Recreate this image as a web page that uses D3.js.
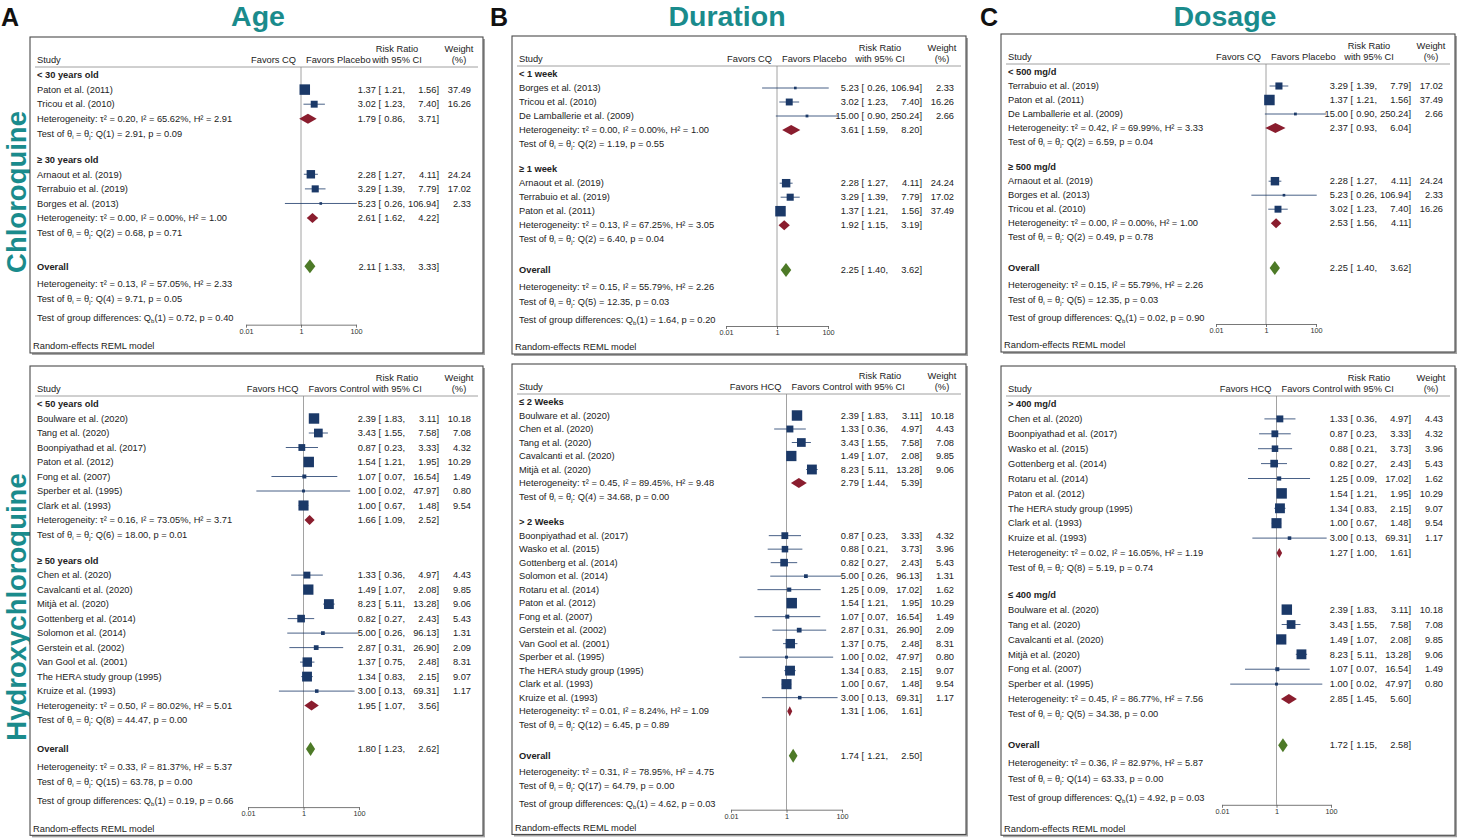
<!DOCTYPE html>
<html>
<head>
<meta charset="utf-8">
<script src="https://cdn.jsdelivr.net/npm/d3@7"></script>
<style>
  body { margin: 0; background: #fff; }
  text { font-family: "Liberation Sans", Arial, Helvetica, sans-serif; }
</style>
</head>
<body>
<div id="wrapper"></div>
<script>
// STEP 1: DATA

// chloroquine studies (risk ratio, 95% CI, weight %)
const cqStudy = ["Paton et al. (2011)", "Tricou et al. (2010)", "Arnaout et al. (2019)", "Terrabuio et al. (2019)", "Borges et al. (2013)", "De Lamballerie et al. (2009)"];
const cqRR = [1.37, 3.02, 2.28, 3.29, 5.23, 15.00];
const cqLow = [1.21, 1.23, 1.27, 1.39, 0.26, 0.90];
const cqHigh = [1.56, 7.40, 4.11, 7.79, 106.94, 250.24];
const cqWeight = [37.49, 16.26, 24.24, 17.02, 2.33, 2.66];

// hydroxychloroquine studies
const hcqStudy = ["Boulware et al. (2020)", "Tang et al. (2020)", "Boonpiyathad et al. (2017)", "Paton et al. (2012)", "Fong et al. (2007)", "Sperber et al. (1995)", "Clark et al. (1993)", "Chen et al. (2020)", "Cavalcanti et al. (2020)", "Mitjà et al. (2020)", "Gottenberg et al. (2014)", "Solomon et al. (2014)", "Gerstein et al. (2002)", "Van Gool et al. (2001)", "The HERA study group (1995)", "Kruize et al. (1993)", "Wasko et al. (2015)", "Rotaru et al. (2014)"];
const hcqRR = [2.39, 3.43, 0.87, 1.54, 1.07, 1.00, 1.00, 1.33, 1.49, 8.23, 0.82, 5.00, 2.87, 1.37, 1.34, 3.00, 0.88, 1.25];
const hcqLow = [1.83, 1.55, 0.23, 1.21, 0.07, 0.02, 0.67, 0.36, 1.07, 5.11, 0.27, 0.26, 0.31, 0.75, 0.83, 0.13, 0.21, 0.09];
const hcqHigh = [3.11, 7.58, 3.33, 1.95, 16.54, 47.97, 1.48, 4.97, 2.08, 13.28, 2.43, 96.13, 26.90, 2.48, 2.15, 69.31, 3.73, 17.02];
const hcqWeight = [10.18, 7.08, 4.32, 10.29, 1.49, 0.80, 9.54, 4.43, 9.85, 9.06, 5.43, 1.31, 2.09, 8.31, 9.07, 1.17, 3.96, 1.62];

const columnTitles = ["Age", "Duration", "Dosage"];
const panelLetters = ["A", "B", "C"];
const rowTitles = ["Chloroquine", "Hydroxychloroquine"];
const cqFavors = ["Favors CQ", "Favors Placebo"];
const hcqFavors = ["Favors HCQ", "Favors Control"];
const axisTicks = [0.01, 1, 100];

// subgroups: label, member studies
// summary rows: [RR, low, high, tau2, I2, H2, df, Q, p] for group 1, group 2, overall
const ageCQGroups = ["< 30 years old", "≥ 30 years old"];
const ageCQMembers = [["Paton et al. (2011)", "Tricou et al. (2010)"], ["Arnaout et al. (2019)", "Terrabuio et al. (2019)", "Borges et al. (2013)"]];
const ageCQSummary = [[1.79, 0.86, 3.71, 0.20, 65.62, 2.91, 1, 2.91, 0.09], [2.61, 1.62, 4.22, 0.00, 0.00, 1.00, 2, 0.68, 0.71], [2.11, 1.33, 3.33, 0.13, 57.05, 2.33, 4, 9.71, 0.05]];
const ageCQDiff = [0.72, 0.40];

const ageHCQGroups = ["< 50 years old", "≥ 50 years old"];
const ageHCQMembers = [["Boulware et al. (2020)", "Tang et al. (2020)", "Boonpiyathad et al. (2017)", "Paton et al. (2012)", "Fong et al. (2007)", "Sperber et al. (1995)", "Clark et al. (1993)"],
  ["Chen et al. (2020)", "Cavalcanti et al. (2020)", "Mitjà et al. (2020)", "Gottenberg et al. (2014)", "Solomon et al. (2014)", "Gerstein et al. (2002)", "Van Gool et al. (2001)", "The HERA study group (1995)", "Kruize et al. (1993)"]];
const ageHCQSummary = [[1.66, 1.09, 2.52, 0.16, 73.05, 3.71, 6, 18.00, 0.01], [1.95, 1.07, 3.56, 0.50, 80.02, 5.01, 8, 44.47, 0.00], [1.80, 1.23, 2.62, 0.33, 81.37, 5.37, 15, 63.78, 0.00]];
const ageHCQDiff = [0.19, 0.66];

const durCQGroups = ["< 1 week", "≥ 1 week"];
const durCQMembers = [["Borges et al. (2013)", "Tricou et al. (2010)", "De Lamballerie et al. (2009)"], ["Arnaout et al. (2019)", "Terrabuio et al. (2019)", "Paton et al. (2011)"]];
const durCQSummary = [[3.61, 1.59, 8.20, 0.00, 0.00, 1.00, 2, 1.19, 0.55], [1.92, 1.15, 3.19, 0.13, 67.25, 3.05, 2, 6.40, 0.04], [2.25, 1.40, 3.62, 0.15, 55.79, 2.26, 5, 12.35, 0.03]];
const durCQDiff = [1.64, 0.20];

const durHCQGroups = ["≤ 2 Weeks", "> 2 Weeks"];
const durHCQMembers = [["Boulware et al. (2020)", "Chen et al. (2020)", "Tang et al. (2020)", "Cavalcanti et al. (2020)", "Mitjà et al. (2020)"],
  ["Boonpiyathad et al. (2017)", "Wasko et al. (2015)", "Gottenberg et al. (2014)", "Solomon et al. (2014)", "Rotaru et al. (2014)", "Paton et al. (2012)", "Fong et al. (2007)", "Gerstein et al. (2002)", "Van Gool et al. (2001)", "Sperber et al. (1995)", "The HERA study group (1995)", "Clark et al. (1993)", "Kruize et al. (1993)"]];
const durHCQSummary = [[2.79, 1.44, 5.39, 0.45, 89.45, 9.48, 4, 34.68, 0.00], [1.31, 1.06, 1.61, 0.01, 8.24, 1.09, 12, 6.45, 0.89], [1.74, 1.21, 2.50, 0.31, 78.95, 4.75, 17, 64.79, 0.00]];
const durHCQDiff = [4.62, 0.03];

const doseCQGroups = ["< 500 mg/d", "≥ 500 mg/d"];
const doseCQMembers = [["Terrabuio et al. (2019)", "Paton et al. (2011)", "De Lamballerie et al. (2009)"], ["Arnaout et al. (2019)", "Borges et al. (2013)", "Tricou et al. (2010)"]];
const doseCQSummary = [[2.37, 0.93, 6.04, 0.42, 69.99, 3.33, 2, 6.59, 0.04], [2.53, 1.56, 4.11, 0.00, 0.00, 1.00, 2, 0.49, 0.78], [2.25, 1.40, 3.62, 0.15, 55.79, 2.26, 5, 12.35, 0.03]];
const doseCQDiff = [0.02, 0.90];

const doseHCQGroups = ["> 400 mg/d", "≤ 400 mg/d"];
const doseHCQMembers = [["Chen et al. (2020)", "Boonpiyathad et al. (2017)", "Wasko et al. (2015)", "Gottenberg et al. (2014)", "Rotaru et al. (2014)", "Paton et al. (2012)", "The HERA study group (1995)", "Clark et al. (1993)", "Kruize et al. (1993)"],
  ["Boulware et al. (2020)", "Tang et al. (2020)", "Cavalcanti et al. (2020)", "Mitjà et al. (2020)", "Fong et al. (2007)", "Sperber et al. (1995)"]];
const doseHCQSummary = [[1.27, 1.00, 1.61, 0.02, 16.05, 1.19, 8, 5.19, 0.74], [2.85, 1.45, 5.60, 0.45, 86.77, 7.56, 5, 34.38, 0.00], [1.72, 1.15, 2.58, 0.36, 82.97, 5.87, 14, 63.33, 0.00]];
const doseHCQDiff = [4.92, 0.03];

// STEP 2: LAYOUT

const width = 1461, height = 840;
const teal = "#1a8b8c", navy = "#1b3968", maroon = "#8a1d2e", green = "#4d7a27";
const fs = 9.3;

const panels = [
  { drug: "cq", groups: ageCQGroups, members: ageCQMembers, summary: ageCQSummary, diff: ageCQDiff, L: 30, R: 483, g1: 75, step: 14.6, gapG: 1.8, gapO: 2.3, ax: [246, 356], pad: 21 },
  { drug: "hcq", groups: ageHCQGroups, members: ageHCQMembers, summary: ageHCQSummary, diff: ageHCQDiff, L: 30, R: 483, g1: 404, step: 14.5, gapG: 1.8, gapO: 2.0, ax: [248, 359], pad: 21 },
  { drug: "cq", groups: durCQGroups, members: durCQMembers, summary: durCQSummary, diff: durCQDiff, L: 512, R: 966, g1: 74, step: 14, gapG: 1.8, gapO: 2.2, ax: [726, 828], pad: 21 },
  { drug: "hcq", groups: durHCQGroups, members: durHCQMembers, summary: durHCQSummary, diff: durHCQDiff, L: 512, R: 966, g1: 402, step: 13.5, gapG: 1.9, gapO: 2.3, ax: [731, 842], pad: 18 },
  { drug: "cq", groups: doseCQGroups, members: doseCQMembers, summary: doseCQSummary, diff: doseCQDiff, L: 1001, R: 1455, g1: 72, step: 14, gapG: 1.8, gapO: 2.2, ax: [1216, 1316], pad: 21 },
  { drug: "hcq", groups: doseHCQGroups, members: doseHCQMembers, summary: doseHCQSummary, diff: doseHCQDiff, L: 1001, R: 1455, g1: 404, step: 14.9, gapG: 1.8, gapO: 2.1, ax: [1222, 1331], pad: 23 },
];

const svg = d3.select("#wrapper").append("svg")
  .attr("width", width).attr("height", height);

// STEP 3: TITLES

const titleX = [258, 727, 1225];
columnTitles.forEach((t, i) => {
  svg.append("text").attr("x", titleX[i]).attr("y", 26)
    .attr("text-anchor", "middle").attr("font-size", 28.5).attr("font-weight", "bold")
    .attr("fill", teal).text(t);
});
const letterX = [1, 490, 980];
panelLetters.forEach((t, i) => {
  svg.append("text").attr("x", letterX[i]).attr("y", 26)
    .attr("font-size", 25).attr("font-weight", "bold").attr("fill", "#111").text(t);
});
const rowY = [192, 607];
rowTitles.forEach((t, i) => {
  svg.append("text").attr("transform", `translate(25.5,${rowY[i]}) rotate(-90)`)
    .attr("text-anchor", "middle").attr("font-size", 27.5).attr("font-weight", "bold")
    .attr("fill", teal).text(t);
});

// STEP 4: FOREST PLOTS

const f2 = d3.format(".2f");

function drawPanel(p) {
  const st = p.drug === "cq"
    ? { name: cqStudy, rr: cqRR, lo: cqLow, hi: cqHigh, w: cqWeight, fav: cqFavors }
    : { name: hcqStudy, rr: hcqRR, lo: hcqLow, hi: hcqHigh, w: hcqWeight, fav: hcqFavors };

  const xScale = d3.scaleLog().domain([0.01, 100]).range(p.ax);
  const yScale = d3.scaleLinear().domain([0, 1]).range([p.g1, p.g1 + p.step]);

  // build row list with fractional indices
  const rows = [];
  let idx = 0;
  p.groups.forEach((label, gi) => {
    if (gi > 0) idx += p.gapG;
    rows.push({ type: "group", label, idx });
    p.members[gi].forEach(n => { idx += 1; rows.push({ type: "study", i: st.name.indexOf(n), idx }); });
    idx += 1; rows.push({ type: "het", s: p.summary[gi], idx, diamond: true });
    idx += 1; rows.push({ type: "test", s: p.summary[gi], idx });
  });
  idx += p.gapO;
  rows.push({ type: "overall", s: p.summary[2], idx });
  rows.push({ type: "het", s: p.summary[2], idx: idx + 1.2 });
  rows.push({ type: "test", s: p.summary[2], idx: idx + 2.25 });
  rows.push({ type: "diff", idx: idx + 3.55 });
  const axisY = yScale(idx + 4.0);
  const top = p.g1 - 38;
  const bottom = yScale(idx + 4.5) + p.pad;
  const ruleY = p.g1 - 8;
  const ref = xScale(1);

  const g = svg.append("g");

  // box with shadow
  g.append("rect").attr("x", p.L + 2).attr("y", top + 2)
    .attr("width", p.R - p.L).attr("height", bottom - top).attr("fill", "#a3a3a3");
  g.append("rect").attr("x", p.L).attr("y", top)
    .attr("width", p.R - p.L).attr("height", bottom - top)
    .attr("fill", "#fff").attr("stroke", "#4a4a4a").attr("stroke-width", 1.1);

  const txt = (x, y, s, anchor = "start", bold = false, size = fs) =>
    g.append("text").attr("x", x).attr("y", y).attr("dy", "0.35em")
      .attr("text-anchor", anchor).attr("font-size", size)
      .attr("font-weight", bold ? "bold" : "normal").attr("fill", "#222").text(s);

  // header
  const tx = p.L + 7;
  txt(tx, p.g1 - 15, "Study");
  txt(ref - 5, p.g1 - 15, st.fav[0], "end");
  txt(ref + 5, p.g1 - 15, st.fav[1], "start");
  txt(p.R - 86, p.g1 - 26, "Risk Ratio", "middle");
  txt(p.R - 86, p.g1 - 15, "with 95% CI", "middle");
  txt(p.R - 24, p.g1 - 26, "Weight", "middle");
  txt(p.R - 24, p.g1 - 15, "(%)", "middle");
  g.append("line").attr("x1", p.L + 5).attr("x2", p.R - 5)
    .attr("y1", ruleY).attr("y2", ruleY).attr("stroke", "#888").attr("stroke-width", 0.8);

  // reference line at RR = 1
  g.append("line").attr("x1", ref).attr("x2", ref)
    .attr("y1", ruleY).attr("y2", axisY).attr("stroke", "#8a8a8a").attr("stroke-width", 0.8);

  const X1 = p.R - 102, X2 = p.R - 78, X3 = p.R - 44, X4 = p.R - 12;
  const ciText = (y, rr, lo, hi) => {
    txt(X1, y, f2(rr) + " [", "end");
    txt(X2, y, f2(lo) + ",", "end");
    txt(X3, y, f2(hi) + "]", "end");
  };

  const maxW = d3.max(p.members.flat(), n => st.w[st.name.indexOf(n)]);
  const sizeScale = d3.scaleSqrt().domain([0, maxW]).range([0, 10.5]);

  const diamond = (y, rr, lo, hi, h, fill) => {
    g.append("path")
      .attr("d", `M${xScale(lo)},${y} L${xScale(rr)},${y - h / 2} L${xScale(hi)},${y} L${xScale(rr)},${y + h / 2} Z`)
      .attr("fill", fill);
  };

  const testText = (y, s) => {
    const t = txt(tx, y, "Test of θ");
    t.append("tspan").attr("font-size", 6).attr("dy", 2).text("i");
    t.append("tspan").attr("dy", -2).text(" = θ");
    t.append("tspan").attr("font-size", 6).attr("dy", 2).text("j");
    t.append("tspan").attr("dy", -2).text(`: Q(${s[6]}) = ${f2(s[7])}, p = ${f2(s[8])}`);
  };

  rows.forEach(r => {
    const y = yScale(r.idx);
    if (r.type === "group") {
      txt(tx, y, r.label, "start", true);
    } else if (r.type === "study") {
      const i = r.i;
      txt(tx, y, st.name[i]);
      g.append("line").attr("x1", xScale(st.lo[i])).attr("x2", xScale(st.hi[i]))
        .attr("y1", y).attr("y2", y).attr("stroke", navy).attr("stroke-width", 0.8);
      const s = Math.max(sizeScale(st.w[i]), 2.2);
      g.append("rect").attr("x", xScale(st.rr[i]) - s / 2).attr("y", y - s / 2)
        .attr("width", s).attr("height", s).attr("fill", navy);
      ciText(y, st.rr[i], st.lo[i], st.hi[i]);
      txt(X4, y, f2(st.w[i]), "end");
    } else if (r.type === "het") {
      const s = r.s;
      txt(tx, y, `Heterogeneity: τ² = ${f2(s[3])}, I² = ${f2(s[4])}%, H² = ${f2(s[5])}`);
      if (r.diamond) {
        diamond(y, s[0], s[1], s[2], 10, maroon);
        ciText(y, s[0], s[1], s[2]);
      }
    } else if (r.type === "test") {
      testText(y, r.s);
    } else if (r.type === "overall") {
      txt(tx, y, "Overall", "start", true);
      diamond(y, r.s[0], r.s[1], r.s[2], 14, green);
      ciText(y, r.s[0], r.s[1], r.s[2]);
    } else if (r.type === "diff") {
      const t = txt(tx, y, "Test of group differences: Q");
      t.append("tspan").attr("font-size", 6).attr("dy", 2).text("b");
      t.append("tspan").attr("dy", -2).text(`(1) = ${f2(p.diff[0])}, p = ${f2(p.diff[1])}`);
    }
  });

  // x axis
  const xAxisGenerator = d3.axisBottom(xScale)
    .tickValues(axisTicks).tickFormat(d => String(d))
    .tickSize(3).tickSizeOuter(0);
  const xAxis = g.append("g").attr("transform", `translate(0,${axisY})`).call(xAxisGenerator);
  xAxis.select(".domain").attr("stroke", "#555").attr("stroke-width", 0.8);
  xAxis.selectAll(".tick line").attr("stroke", "#555").attr("stroke-width", 0.8);
  xAxis.selectAll(".tick text").attr("font-size", 7.3).attr("fill", "#333")
    .attr("font-family", "Liberation Sans, Arial, sans-serif").attr("y", 4);

  txt(p.L + 3, bottom - 7, "Random-effects REML model");
}

panels.forEach(drawPanel);
</script>
</body>
</html>
